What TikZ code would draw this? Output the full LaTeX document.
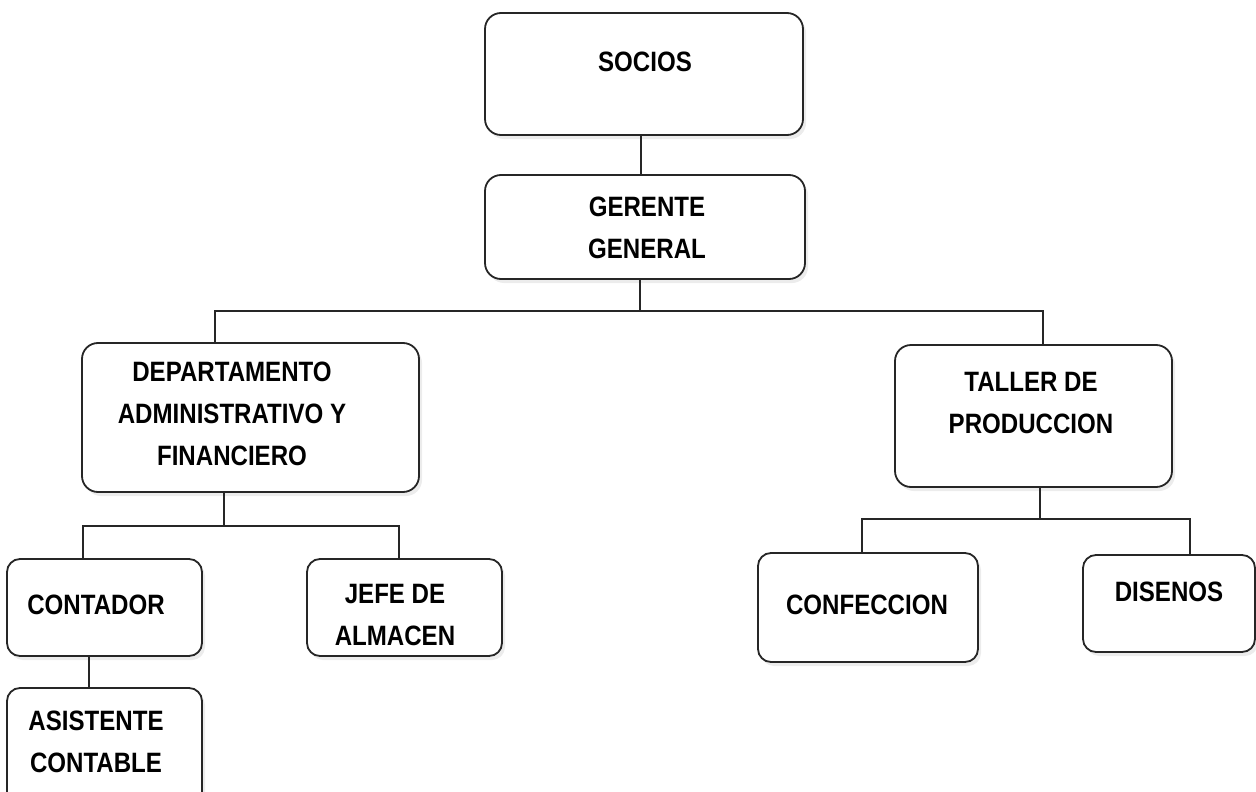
\documentclass[tikz,border=0pt]{standalone}
\usepackage{fontspec}
\newfontfamily\labfont{Liberation Sans}[FakeStretch=0.86]
\usetikzlibrary{shadows}
\tikzset{
  box/.style={draw=black!85, line width=1.8pt, rounded corners=16pt, fill=white,
    drop shadow={opacity=0.15, shadow xshift=3pt, shadow yshift=-4pt}},
  sbox/.style={box, rounded corners=13pt},
  lab/.style={inner sep=0pt, align=center, text=black,
    font=\labfont\bfseries\fontsize{28}{42}\selectfont},
  conn/.style={draw=black!85, line width=1.8pt}
}
\begin{document}
\begin{tikzpicture}[x=1pt,y=-1pt]
\useasboundingbox (0,0) rectangle (1256,792);
\clip (0,0) rectangle (1256,792);
% boxes
\node[box, minimum width=318pt, minimum height=122pt] (socios) at (644,74) {};
\node[box, minimum width=320pt, minimum height=104pt] (gerente) at (645,227) {};
\node[box, minimum width=337pt, minimum height=149pt] (dept) at (250.5,417.5) {};
\node[box, minimum width=277pt, minimum height=142pt] (taller) at (1033.5,416) {};
\node[sbox, minimum width=195pt, minimum height=97pt] (contador) at (104.5,607.5) {};
\node[sbox, minimum width=195pt, minimum height=97pt] (jefe) at (404.5,607.5) {};
\node[sbox, minimum width=195pt, minimum height=122pt] (asist) at (104.5,749) {};
\node[sbox, minimum width=220pt, minimum height=109pt] (confec) at (868,607.5) {};
\node[sbox, minimum width=172pt, minimum height=97pt] (disenos) at (1169,603.5) {};
% labels
\node[lab] (tsocios) at (645,62) {SOCIOS};
\node[lab] (tgerente) at (647,227.5) {GERENTE\\GENERAL};
\node[lab] (tdept) at (232,414) {DEPARTAMENTO\\ADMINISTRATIVO Y\\FINANCIERO};
\node[lab] (ttaller) at (1031,403.5) {TALLER DE\\PRODUCCION};
\node[lab] (tcontador) at (96,605) {CONTADOR};
\node[lab] (tjefe) at (395,615) {JEFE DE\\ALMACEN};
\node[lab] (tasist) at (96,741.5) {ASISTENTE\\CONTABLE};
\node[lab] (tconfec) at (867,605) {CONFECCION};
\node[lab] (tdisenos) at (1169,592) {DISENOS};
% junction coordinates
\coordinate (s1) at (641,0);
\coordinate (g1) at (640,311);
\coordinate (l1) at (215,311);
\coordinate (r1) at (1043,311);
\coordinate (d1) at (224,526);
\coordinate (dl) at (83,526);
\coordinate (dr) at (399,526);
\coordinate (c1) at (89,0);
\coordinate (t1) at (1040,519);
\coordinate (tl) at (862,519);
\coordinate (tr) at (1190,519);
% connectors
\draw[conn] (socios.south -| s1) -- (gerente.north -| s1);
\draw[conn] (gerente.south -| g1) -- (g1);
\draw[conn] (dept.north -| l1) -- (l1) -- (r1) -- (taller.north -| r1);
\draw[conn] (dept.south -| d1) -- (d1);
\draw[conn] (contador.north -| dl) -- (dl) -- (dr) -- (jefe.north -| dr);
\draw[conn] (contador.south -| c1) -- (asist.north -| c1);
\draw[conn] (taller.south -| t1) -- (t1);
\draw[conn] (confec.north -| tl) -- (tl) -- (tr) -- (disenos.north -| tr);
\end{tikzpicture}
\end{document}
